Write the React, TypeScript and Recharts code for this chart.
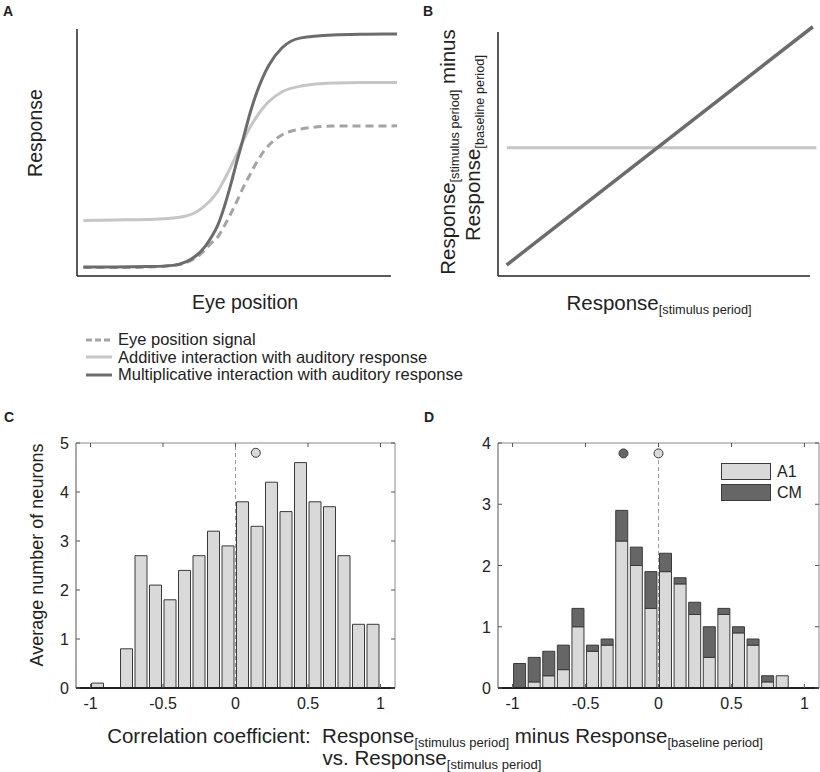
import {
  LineChart,
  Line,
  BarChart,
  Bar,
  XAxis,
  YAxis,
  ReferenceLine,
  ReferenceDot,
} from 'recharts';

const FONT = '"Liberation Sans", Arial, Helvetica, sans-serif';
const INK = '#222';
const FRAME = '#555';
const DARK = '#6c6c6c';
const LIGHT = '#c6c6c6';
const DASHED = '#a4a4a4';
const A1_FILL = '#d9d9d9';
const CM_FILL = '#666666';
const EDGE = '#3a3a3a';

// ---- panel A: model curves (x: eye position, y: response)
const eyeX = [2, 12, 22, 30, 34, 37, 40, 42, 44, 46, 48, 50, 52, 54, 56, 58, 60, 64, 70, 80, 90, 100];
const eyeSignal = [0.034, 0.034, 0.036, 0.043, 0.053, 0.073, 0.105, 0.134, 0.158, 0.202, 0.251, 0.304, 0.36, 0.409, 0.457, 0.498, 0.53, 0.571, 0.595, 0.607, 0.607, 0.608];
const additive = [0.225, 0.227, 0.229, 0.235, 0.243, 0.257, 0.285, 0.31, 0.343, 0.39, 0.44, 0.494, 0.55, 0.6, 0.642, 0.678, 0.707, 0.745, 0.769, 0.781, 0.783, 0.783];
const multiplicative = [0.036, 0.036, 0.038, 0.043, 0.057, 0.08, 0.119, 0.158, 0.206, 0.279, 0.368, 0.466, 0.559, 0.656, 0.737, 0.802, 0.854, 0.923, 0.964, 0.976, 0.979, 0.98];

// ---- panel B: response difference vs stimulus response
const multX = [2.7, 98.7];
const multY = [4.4, 99.7];
const addX = [2.8, 99.8];
const addY = [51.3, 51.3];

// ---- panels C and D: histograms
const binCenters = [-0.95, -0.85, -0.75, -0.65, -0.55, -0.45, -0.35, -0.25, -0.15, -0.05, 0.05, 0.15, 0.25, 0.35, 0.45, 0.55, 0.65, 0.75, 0.85, 0.95];
const corrCounts = [0.1, 0, 0.8, 2.7, 2.1, 1.8, 2.4, 2.7, 3.2, 2.9, 3.8, 3.3, 4.2, 3.6, 4.6, 3.8, 3.7, 2.7, 1.3, 1.3];
const corrMean = 0.14;

const diffA1 = [0, 0.1, 0.2, 0.3, 1.0, 0.6, 0.7, 2.4, 2.0, 1.3, 1.9, 1.7, 1.2, 0.5, 1.2, 0.9, 0.7, 0.1, 0.2, 0];
const diffCM = [0.4, 0.4, 0.4, 0.4, 0.3, 0.1, 0.1, 0.5, 0.3, 0.6, 0.3, 0.1, 0.2, 0.5, 0.1, 0.1, 0.1, 0.1, 0, 0];
const meanA1 = 0;
const meanCM = -0.24;

const histTicksX = [-1, -0.5, 0, 0.5, 1];
const corrTicksY = [0, 1, 2, 3, 4, 5];
const diffTicksY = [0, 1, 2, 3, 4];

const modelRows = eyeX.map((x, i) => ({
  x,
  eye: eyeSignal[i],
  add: additive[i],
  mult: multiplicative[i],
}));
const multRows = multX.map((x, i) => ({ x, y: multY[i] }));
const addRows = addX.map((x, i) => ({ x, y: addY[i] }));
const corrRows = binCenters.map((x, i) => ({ x, count: corrCounts[i] }));
const diffRows = binCenters.map((x, i) => ({ x, a1: diffA1[i], cm: diffCM[i] }));

const TICK = 4;
const HIST_W = 400;
const HIST_H = 300;
const X_AXIS_H = 30;
const Y_AXIS_W = 40;
// plot area of C: x 76..395, y 443..688 ; of D: x 498..819
const C_MARGIN = { top: 23, right: 5, bottom: 32 - X_AXIS_H, left: 76 - Y_AXIS_W };
const D_MARGIN = { top: 23, right: 1, bottom: 32 - X_AXIS_H, left: 78 - Y_AXIS_W };

const xTick = (plotH: number) => (props: any) => {
  const { x, y, payload } = props;
  return (
    <g>
      <line x1={x} y1={y} x2={x} y2={y - TICK} stroke={FRAME} />
      <line x1={x} y1={y - plotH} x2={x} y2={y - plotH + TICK} stroke={FRAME} />
      <text x={x} y={y + 21} textAnchor="middle" fontSize={16} fill={INK} fontFamily={FONT}>
        {String(payload.value)}
      </text>
    </g>
  );
};

const yTick = (plotW: number) => (props: any) => {
  const { x, y, payload } = props;
  return (
    <g>
      <line x1={x} y1={y} x2={x + TICK} y2={y} stroke={FRAME} />
      <line x1={x + plotW} y1={y} x2={x + plotW - TICK} y2={y} stroke={FRAME} />
      <text x={x - 7} y={y + 6} textAnchor="end" fontSize={16} fill={INK} fontFamily={FONT}>
        {String(payload.value)}
      </text>
    </g>
  );
};

function Text({ x, y, size, rotate, children }: any) {
  return (
    <div
      style={{
        position: 'absolute',
        left: x,
        top: y,
        transform: `translate(-50%, -50%)${rotate ? ' rotate(-90deg)' : ''}`,
        fontSize: size,
        whiteSpace: 'pre',
        lineHeight: 1,
        color: INK,
      }}
    >
      {children}
    </div>
  );
}

function Sub({ size, children }: any) {
  return <span style={{ fontSize: size, position: 'relative', top: 4 }}>{children}</span>;
}

function Letter({ x, y, children }: any) {
  return (
    <div style={{ position: 'absolute', left: x, top: y, fontSize: 14, fontWeight: 'bold', lineHeight: 1, color: INK }}>
      {children}
    </div>
  );
}

function PanelA() {
  return (
    <div style={{ position: 'absolute', left: 0, top: 0 }}>
      <LineChart width={420} height={300} data={modelRows} margin={{ top: 29, right: 23, bottom: 24, left: 77 }}>
        <XAxis type="number" dataKey="x" domain={[0, 100]} hide />
        <YAxis type="number" domain={[0, 1]} hide />
        <ReferenceLine segment={[{ x: 0, y: 0 }, { x: 98.1, y: 0 }]} stroke={INK} strokeWidth={1.5} ifOverflow="visible" />
        <ReferenceLine segment={[{ x: 0, y: 0 }, { x: 0, y: 1 }]} stroke={INK} strokeWidth={1.5} ifOverflow="visible" />
        <Line type="monotone" dataKey="eye" stroke={DASHED} strokeWidth={3} strokeDasharray="8 5" dot={false} isAnimationActive={false} />
        <Line type="monotone" dataKey="add" stroke={LIGHT} strokeWidth={3} dot={false} isAnimationActive={false} />
        <Line type="monotone" dataKey="mult" stroke={DARK} strokeWidth={3} dot={false} isAnimationActive={false} />
      </LineChart>
    </div>
  );
}

function PanelB() {
  return (
    <div style={{ position: 'absolute', left: 420, top: 0 }}>
      <LineChart width={400} height={300} margin={{ top: 26, right: 3, bottom: 24, left: 78 }}>
        <XAxis type="number" dataKey="x" domain={[0, 100]} hide />
        <YAxis type="number" dataKey="y" domain={[0, 100]} hide />
        <ReferenceLine segment={[{ x: 0, y: 0 }, { x: 97.8, y: 0 }]} stroke={INK} strokeWidth={1.5} ifOverflow="visible" />
        <ReferenceLine segment={[{ x: 0, y: 0 }, { x: 0, y: 97.6 }]} stroke={INK} strokeWidth={1.5} ifOverflow="visible" />
        <Line data={addRows} type="linear" dataKey="y" stroke={LIGHT} strokeWidth={3} dot={false} isAnimationActive={false} />
        <Line data={multRows} type="linear" dataKey="y" stroke={DARK} strokeWidth={3.5} dot={false} isAnimationActive={false} />
      </LineChart>
    </div>
  );
}

function PanelC() {
  const plotW = HIST_W - C_MARGIN.left - C_MARGIN.right - Y_AXIS_W;
  const plotH = HIST_H - C_MARGIN.top - C_MARGIN.bottom - X_AXIS_H;
  return (
    <div style={{ position: 'absolute', left: 0, top: 420 }}>
      <BarChart width={HIST_W} height={HIST_H} data={corrRows} margin={C_MARGIN}>
        <XAxis
          type="number"
          dataKey="x"
          domain={[-1.1, 1.1]}
          ticks={histTicksX}
          interval={0}
          height={X_AXIS_H}
          tickSize={0}
          tickMargin={0}
          tickLine={false}
          axisLine={{ stroke: INK, strokeWidth: 2 }}
          tick={xTick(plotH)}
        />
        <YAxis
          type="number"
          domain={[0, 5]}
          ticks={corrTicksY}
          interval={0}
          width={Y_AXIS_W}
          tickSize={0}
          tickMargin={0}
          tickLine={false}
          axisLine={{ stroke: FRAME }}
          tick={yTick(plotW)}
        />
        <ReferenceLine y={5} stroke="#8a8a8a" />
        <ReferenceLine x={1.1} stroke="#8a8a8a" />
        <Bar dataKey="count" barSize={12} fill={A1_FILL} stroke={EDGE} strokeWidth={1} isAnimationActive={false} />
        <ReferenceLine x={0} stroke="#9a9a9a" strokeDasharray="4 3" />
        <ReferenceDot x={corrMean} y={4.8} r={4.5} fill={A1_FILL} stroke={EDGE} />
      </BarChart>
    </div>
  );
}

function PanelD() {
  const plotW = HIST_W - D_MARGIN.left - D_MARGIN.right - Y_AXIS_W;
  const plotH = HIST_H - D_MARGIN.top - D_MARGIN.bottom - X_AXIS_H;
  return (
    <div style={{ position: 'absolute', left: 420, top: 420 }}>
      <BarChart width={HIST_W} height={HIST_H} data={diffRows} margin={D_MARGIN}>
        <XAxis
          type="number"
          dataKey="x"
          domain={[-1.1, 1.1]}
          ticks={histTicksX}
          interval={0}
          height={X_AXIS_H}
          tickSize={0}
          tickMargin={0}
          tickLine={false}
          axisLine={{ stroke: INK, strokeWidth: 2 }}
          tick={xTick(plotH)}
        />
        <YAxis
          type="number"
          domain={[0, 4]}
          ticks={diffTicksY}
          interval={0}
          width={Y_AXIS_W}
          tickSize={0}
          tickMargin={0}
          tickLine={false}
          axisLine={{ stroke: FRAME }}
          tick={yTick(plotW)}
        />
        <ReferenceLine y={4} stroke="#8a8a8a" />
        <ReferenceLine x={1.1} stroke="#8a8a8a" />
        <Bar dataKey="a1" stackId="s" barSize={12} fill={A1_FILL} stroke={EDGE} strokeWidth={1} isAnimationActive={false} />
        <Bar dataKey="cm" stackId="s" barSize={12} fill={CM_FILL} stroke={EDGE} strokeWidth={1} isAnimationActive={false} />
        <ReferenceLine segment={[{ x: 0, y: 0 }, { x: 0, y: 3.72 }]} stroke="#9a9a9a" strokeDasharray="4 3" />
        <ReferenceDot x={meanCM} y={3.83} r={4.5} fill={CM_FILL} stroke={EDGE} />
        <ReferenceDot x={meanA1} y={3.83} r={4.5} fill={A1_FILL} stroke={EDGE} />
      </BarChart>
    </div>
  );
}

function LegendA() {
  const rows = [
    { label: 'Eye position signal', color: DASHED, dash: '6 3' },
    { label: 'Additive interaction with auditory response', color: LIGHT, dash: undefined },
    { label: 'Multiplicative interaction with auditory response', color: DARK, dash: undefined },
  ];
  return (
    <div style={{ position: 'absolute', left: 86, top: 331 }}>
      {rows.map((r) => (
        <div key={r.label} style={{ display: 'flex', alignItems: 'center', height: 17.5, fontSize: 16.5, color: INK, whiteSpace: 'nowrap' }}>
          <svg width={26} height={6} style={{ marginRight: 6 }}>
            <line x1={0} y1={3} x2={26} y2={3} stroke={r.color} strokeWidth={3} strokeDasharray={r.dash} />
          </svg>
          {r.label}
        </div>
      ))}
    </div>
  );
}

function LegendD() {
  const rows = [
    { label: 'A1', fill: A1_FILL },
    { label: 'CM', fill: CM_FILL },
  ];
  return (
    <div style={{ position: 'absolute', left: 721, top: 461 }}>
      {rows.map((r) => (
        <div key={r.label} style={{ display: 'flex', alignItems: 'center', height: 21, fontSize: 16, color: INK }}>
          <div style={{ width: 48, height: 15, background: r.fill, border: `1px solid ${EDGE}`, marginRight: 6 }} />
          {r.label}
        </div>
      ))}
    </div>
  );
}

export default function App() {
  return (
    <div
      style={{
        position: 'absolute',
        left: 0,
        top: 0,
        width: 820,
        height: 772,
        background: '#fff',
        fontFamily: FONT,
        overflow: 'hidden',
      }}
    >
      <PanelA />
      <PanelB />
      <PanelC />
      <PanelD />

      <Letter x={3} y={4}>A</Letter>
      <Letter x={423} y={4}>B</Letter>
      <Letter x={4} y={410}>C</Letter>
      <Letter x={424} y={410}>D</Letter>

      <Text x={36} y={133} size={19.5} rotate>Response</Text>
      <Text x={245} y={303} size={19.5}>Eye position</Text>
      <LegendA />

      <Text x={448} y={152} size={20.5} rotate>
        Response<Sub size={12.75}>[stimulus period]</Sub> minus
      </Text>
      <Text x={473} y={148} size={20.5} rotate>
        Response<Sub size={12.75}>[baseline period]</Sub>
      </Text>
      <Text x={659} y={303} size={20.5}>
        Response<Sub size={12.75}>[stimulus period]</Sub>
      </Text>

      <Text x={37} y={555} size={18} rotate>Average number of neurons</Text>
      <LegendD />

      <Text x={435} y={736} size={20.5}>
        {'Correlation coefficient:  Response'}
        <Sub size={13}>[stimulus period]</Sub>
        {' minus Response'}
        <Sub size={13}>[baseline period]</Sub>
      </Text>
      <Text x={432} y={758} size={20.5}>
        {'vs. Response'}
        <Sub size={13}>[stimulus period]</Sub>
      </Text>
    </div>
  );
}
